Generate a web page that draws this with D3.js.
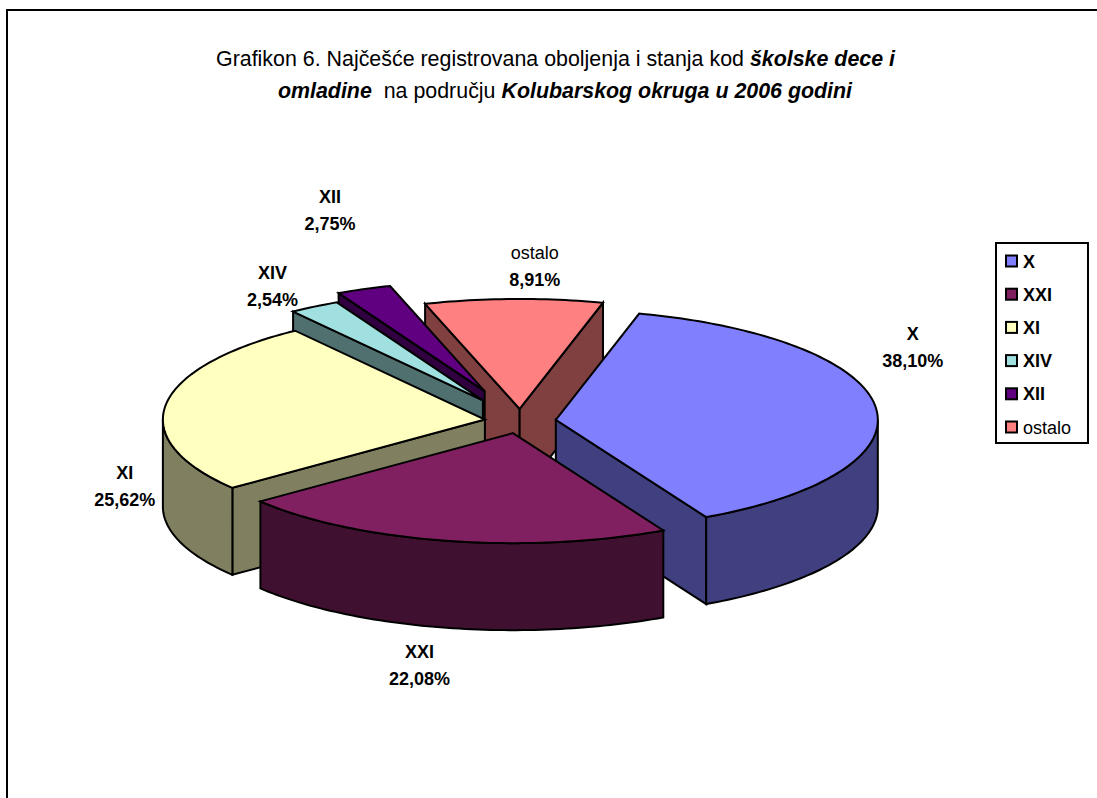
<!DOCTYPE html>
<html>
<head>
<meta charset="utf-8">
<script src="https://cdn.jsdelivr.net/npm/d3@7"></script>
<style>
    body { margin: 0; background: #fff; }
    svg { display: block; }
    text { font-family: "Liberation Sans", Arial, sans-serif; fill: #000; }
</style>
</head>
<body>
<svg id="chart" width="1097" height="798"></svg>
<script>
const categories = ['X', 'XXI', 'XI', 'XIV', 'XII', 'ostalo'];
const values = [38.10, 22.08, 25.62, 2.54, 2.75, 8.91];
const valueLabels = ['38,10%', '22,08%', '25,62%', '2,54%', '2,75%', '8,91%'];
const boldNames = [true, true, true, true, true, false];
const explode = [0.111, 0.111, 0.111, 0.222, 0.295, 0.111];
const colors = ['#8080ff', '#802060', '#ffffc0', '#a0e0e0', '#600080', '#ff8080'];
const drawOrder = ['ostalo', 'XII', 'XIV', 'XI', 'X', 'XXI'];

// label offset from the rim point of each slice
const labelNudge = [[37, -61], [-27, 124], [-41, 81], [-42, -21], [-34, -79], [21, -33]];

const width = 1097, height = 798;
const center = { x: 520.3, y: 421.2 };
const rx = 322, ry = 110, depth = 87;
const firstAngle = 15 * Math.PI / 180;

const svg = d3.select('#chart');

// frame runs off the right and bottom of the picture
svg.append('rect')
    .attr('x', 7).attr('y', 10)
    .attr('width', width + 20).attr('height', height + 20)
    .attr('fill', '#fff').attr('stroke', '#000').attr('stroke-width', 2);

// title
const title = svg.append('text').attr('font-size', 21.4).attr('text-anchor', 'middle');
const line1 = title.append('tspan').attr('x', 555.5).attr('y', 66);
line1.append('tspan').text('Grafikon 6. Najčešće registrovana oboljenja i stanja kod ');
line1.append('tspan').attr('font-weight', 'bold').attr('font-style', 'italic').text('školske dece i');
const line2 = title.append('tspan').attr('x', 565).attr('y', 98);
line2.append('tspan').attr('font-weight', 'bold').attr('font-style', 'italic').text('omladine');
line2.append('tspan').text('  na području ').attr('xml:space', 'preserve');
line2.append('tspan').attr('font-weight', 'bold').attr('font-style', 'italic').text('Kolubarskog okruga u 2006 godini');

// pie angles, clockwise from the top
const pie = d3.pie().sort(null).value((d) => d.value)
    .startAngle(firstAngle).endAngle(firstAngle + 2 * Math.PI);

const slices = pie(categories.map((name, i) => ({
    name: name,
    value: values[i],
    label: valueLabels[i],
    bold: boldNames[i],
    explode: explode[i],
    color: colors[i],
    nudge: labelNudge[i]
}))).map((s) => {
    const mid = (s.startAngle + s.endAngle) / 2;
    return {
        ...s,
        mid: mid,
        apex: {
            x: center.x + s.data.explode * rx * Math.sin(mid),
            y: center.y - s.data.explode * ry * Math.cos(mid)
        }
    };
});

function rim(s, a) {
    return [s.apex.x + rx * Math.sin(a), s.apex.y - ry * Math.cos(a)];
}
function arcPoints(s, a0, a1) {
    const n = Math.max(2, Math.ceil((a1 - a0) / 0.02));
    return d3.range(n + 1).map((i) => rim(s, a0 + (a1 - a0) * i / n));
}
const down = (p) => [p[0], p[1] + depth];
const path = d3.line();
const wallColor = (c) => {
    const r = d3.rgb(c);
    return d3.rgb(r.r / 2, r.g / 2, r.b / 2).formatHex();
};

const pieGroup = svg.append('g')
    .attr('stroke', '#000').attr('stroke-width', 2).attr('stroke-linejoin', 'miter');

function drawPoly(pts, fill) {
    pieGroup.append('path').attr('d', path(pts) + 'Z').attr('fill', fill);
}

drawOrder.forEach((name) => {
    const s = slices.find((d) => d.data.name === name);
    const apex = [s.apex.x, s.apex.y];
    const wall = wallColor(s.data.color);

    // radial walls, only the ones facing the viewer
    if (Math.sin(s.startAngle) < 0) {
        const p = rim(s, s.startAngle);
        drawPoly([apex, p, down(p), down(apex)], wall);
    }
    if (Math.sin(s.endAngle) > 0) {
        const p = rim(s, s.endAngle);
        drawPoly([apex, p, down(p), down(apex)], wall);
    }

    // outer wall, front half of the ellipse only
    [[Math.PI / 2, 3 * Math.PI / 2]].forEach((front) => {
        const a0 = Math.max(s.startAngle, front[0]);
        const a1 = Math.min(s.endAngle, front[1]);
        if (a1 > a0) {
            const top = arcPoints(s, a0, a1);
            drawPoly(top.concat(top.map(down).reverse()), wall);
        }
    });

    // top face
    drawPoly([apex].concat(arcPoints(s, s.startAngle, s.endAngle)), s.data.color);
});

// data labels
const labels = svg.append('g').attr('font-size', 18).attr('text-anchor', 'middle');
slices.forEach((s) => {
    const p = rim(s, s.mid);
    const x = p[0] + s.data.nudge[0], y = p[1] + s.data.nudge[1];
    labels.append('text').attr('x', x).attr('y', y - 7)
        .attr('font-weight', s.data.bold ? 'bold' : 'normal').text(s.data.name);
    labels.append('text').attr('x', x).attr('y', y + 20)
        .attr('font-weight', 'bold').text(s.data.label);
});

// legend
const legend = svg.append('g');
legend.append('rect')
    .attr('x', 996).attr('y', 243).attr('width', 92).attr('height', 200)
    .attr('fill', '#fff').attr('stroke', '#000').attr('stroke-width', 2);
const legendY = d3.scalePoint().domain(categories).range([261, 427]);
const items = legend.selectAll('g').data(slices).enter().append('g')
    .attr('transform', (d) => 'translate(0,' + legendY(d.data.name) + ')');
items.append('rect')
    .attr('x', 1006).attr('y', -5.5).attr('width', 11).attr('height', 11)
    .attr('fill', (d) => d.data.color).attr('stroke', '#000').attr('stroke-width', 2);
items.append('text')
    .attr('x', 1023).attr('y', 6.5).attr('font-size', 18)
    .attr('font-weight', (d) => d.data.bold ? 'bold' : 'normal')
    .text((d) => d.data.name);
</script>
</body>
</html>
